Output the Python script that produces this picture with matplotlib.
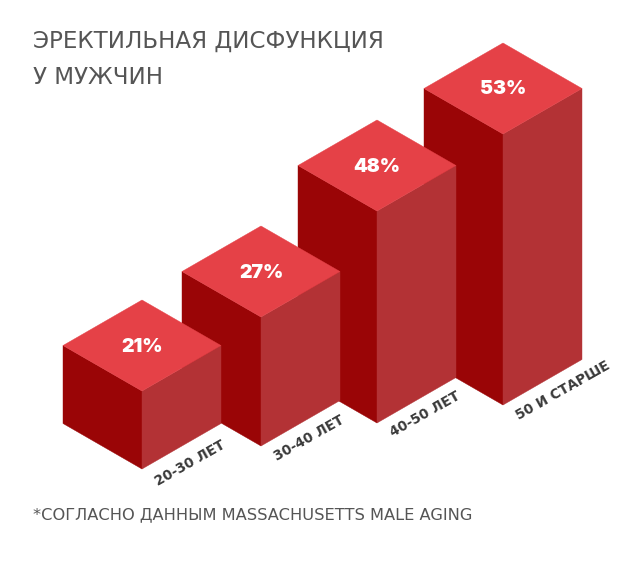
"""Isometric bar graphic: erectile dysfunction in men by age group."""
import matplotlib
matplotlib.use("Agg")
import matplotlib.pyplot as plt
import numpy as np
from matplotlib.patches import Polygon

plt.rcParams["font.family"] = ["DejaVu Sans"]

age_groups = ["20-30 ЛЕТ", "30-40 ЛЕТ", "40-50 ЛЕТ", "50 И СТАРШЕ"]
percent = [21, 27, 48, 53]

# the graphic's height scale is not linear, so it is given as knots (value -> px)
scale_values = [21, 27, 48, 53]
scale_heights = [78, 129, 212, 271]

TOP_COLOR = "#e54147"
LEFT_COLOR = "#9a0506"
RIGHT_COLOR = "#b33235"
TITLE_COLOR = "#555555"

# front-bottom corner of each block, half width and half depth of the diamond
base_x = [142, 261, 377, 503]
base_y = [469, 446, 423, 405]
label_dy = [14, 12, 11, 12]
half_w = 79
half_d = 45.5


def draw_block(ax, x, y, h, zorder):
    top_y = y - h
    faces = [
        ([(x - half_w, top_y - half_d), (x, top_y), (x, y), (x - half_w, y - half_d)], LEFT_COLOR),
        ([(x, top_y), (x + half_w, top_y - half_d), (x + half_w, y - half_d), (x, y)], RIGHT_COLOR),
        ([(x - half_w, top_y - half_d), (x, top_y - 2 * half_d), (x + half_w, top_y - half_d), (x, top_y)], TOP_COLOR),
    ]
    for pts, color in faces:
        ax.add_patch(Polygon(pts, closed=True, fc=color, ec=color, lw=0.3, zorder=zorder))
    return top_y - half_d


fig = plt.figure(figsize=(6.4, 5.65), dpi=100)
ax = fig.add_axes([0, 0, 1, 1])
ax.set_xlim(0, 640)
ax.set_ylim(565, 0)
ax.axis("off")

heights = np.interp(percent, scale_values, scale_heights)
for i, (x, y, h) in enumerate(zip(base_x, base_y, heights)):
    # left blocks sit in front of the ones to their right
    mid_y = draw_block(ax, x, y, h, zorder=len(percent) - i)
    ax.text(x, mid_y + 1, f"{percent[i]}%", color="white", fontsize=14, fontweight="black",
            family=["Inter", "DejaVu Sans"], ha="center", va="center", zorder=10)
    ax.text(x + 14, y + label_dy[i], age_groups[i], color="#3a3a3a", fontsize=9.8, fontweight="bold",
            rotation=29.5, rotation_mode="anchor", ha="left", va="center", zorder=10)

ax.text(33, 41, "ЭРЕКТИЛЬНАЯ ДИСФУНКЦИЯ", color=TITLE_COLOR, fontsize=16.6, va="center")
ax.text(33, 77, "У МУЖЧИН", color=TITLE_COLOR, fontsize=16.6, va="center")
ax.text(33, 515, "*СОГЛАСНО ДАННЫМ MASSACHUSETTS MALE AGING", color=TITLE_COLOR, fontsize=11.7, va="center")

fig.savefig("out.png", dpi=100)
